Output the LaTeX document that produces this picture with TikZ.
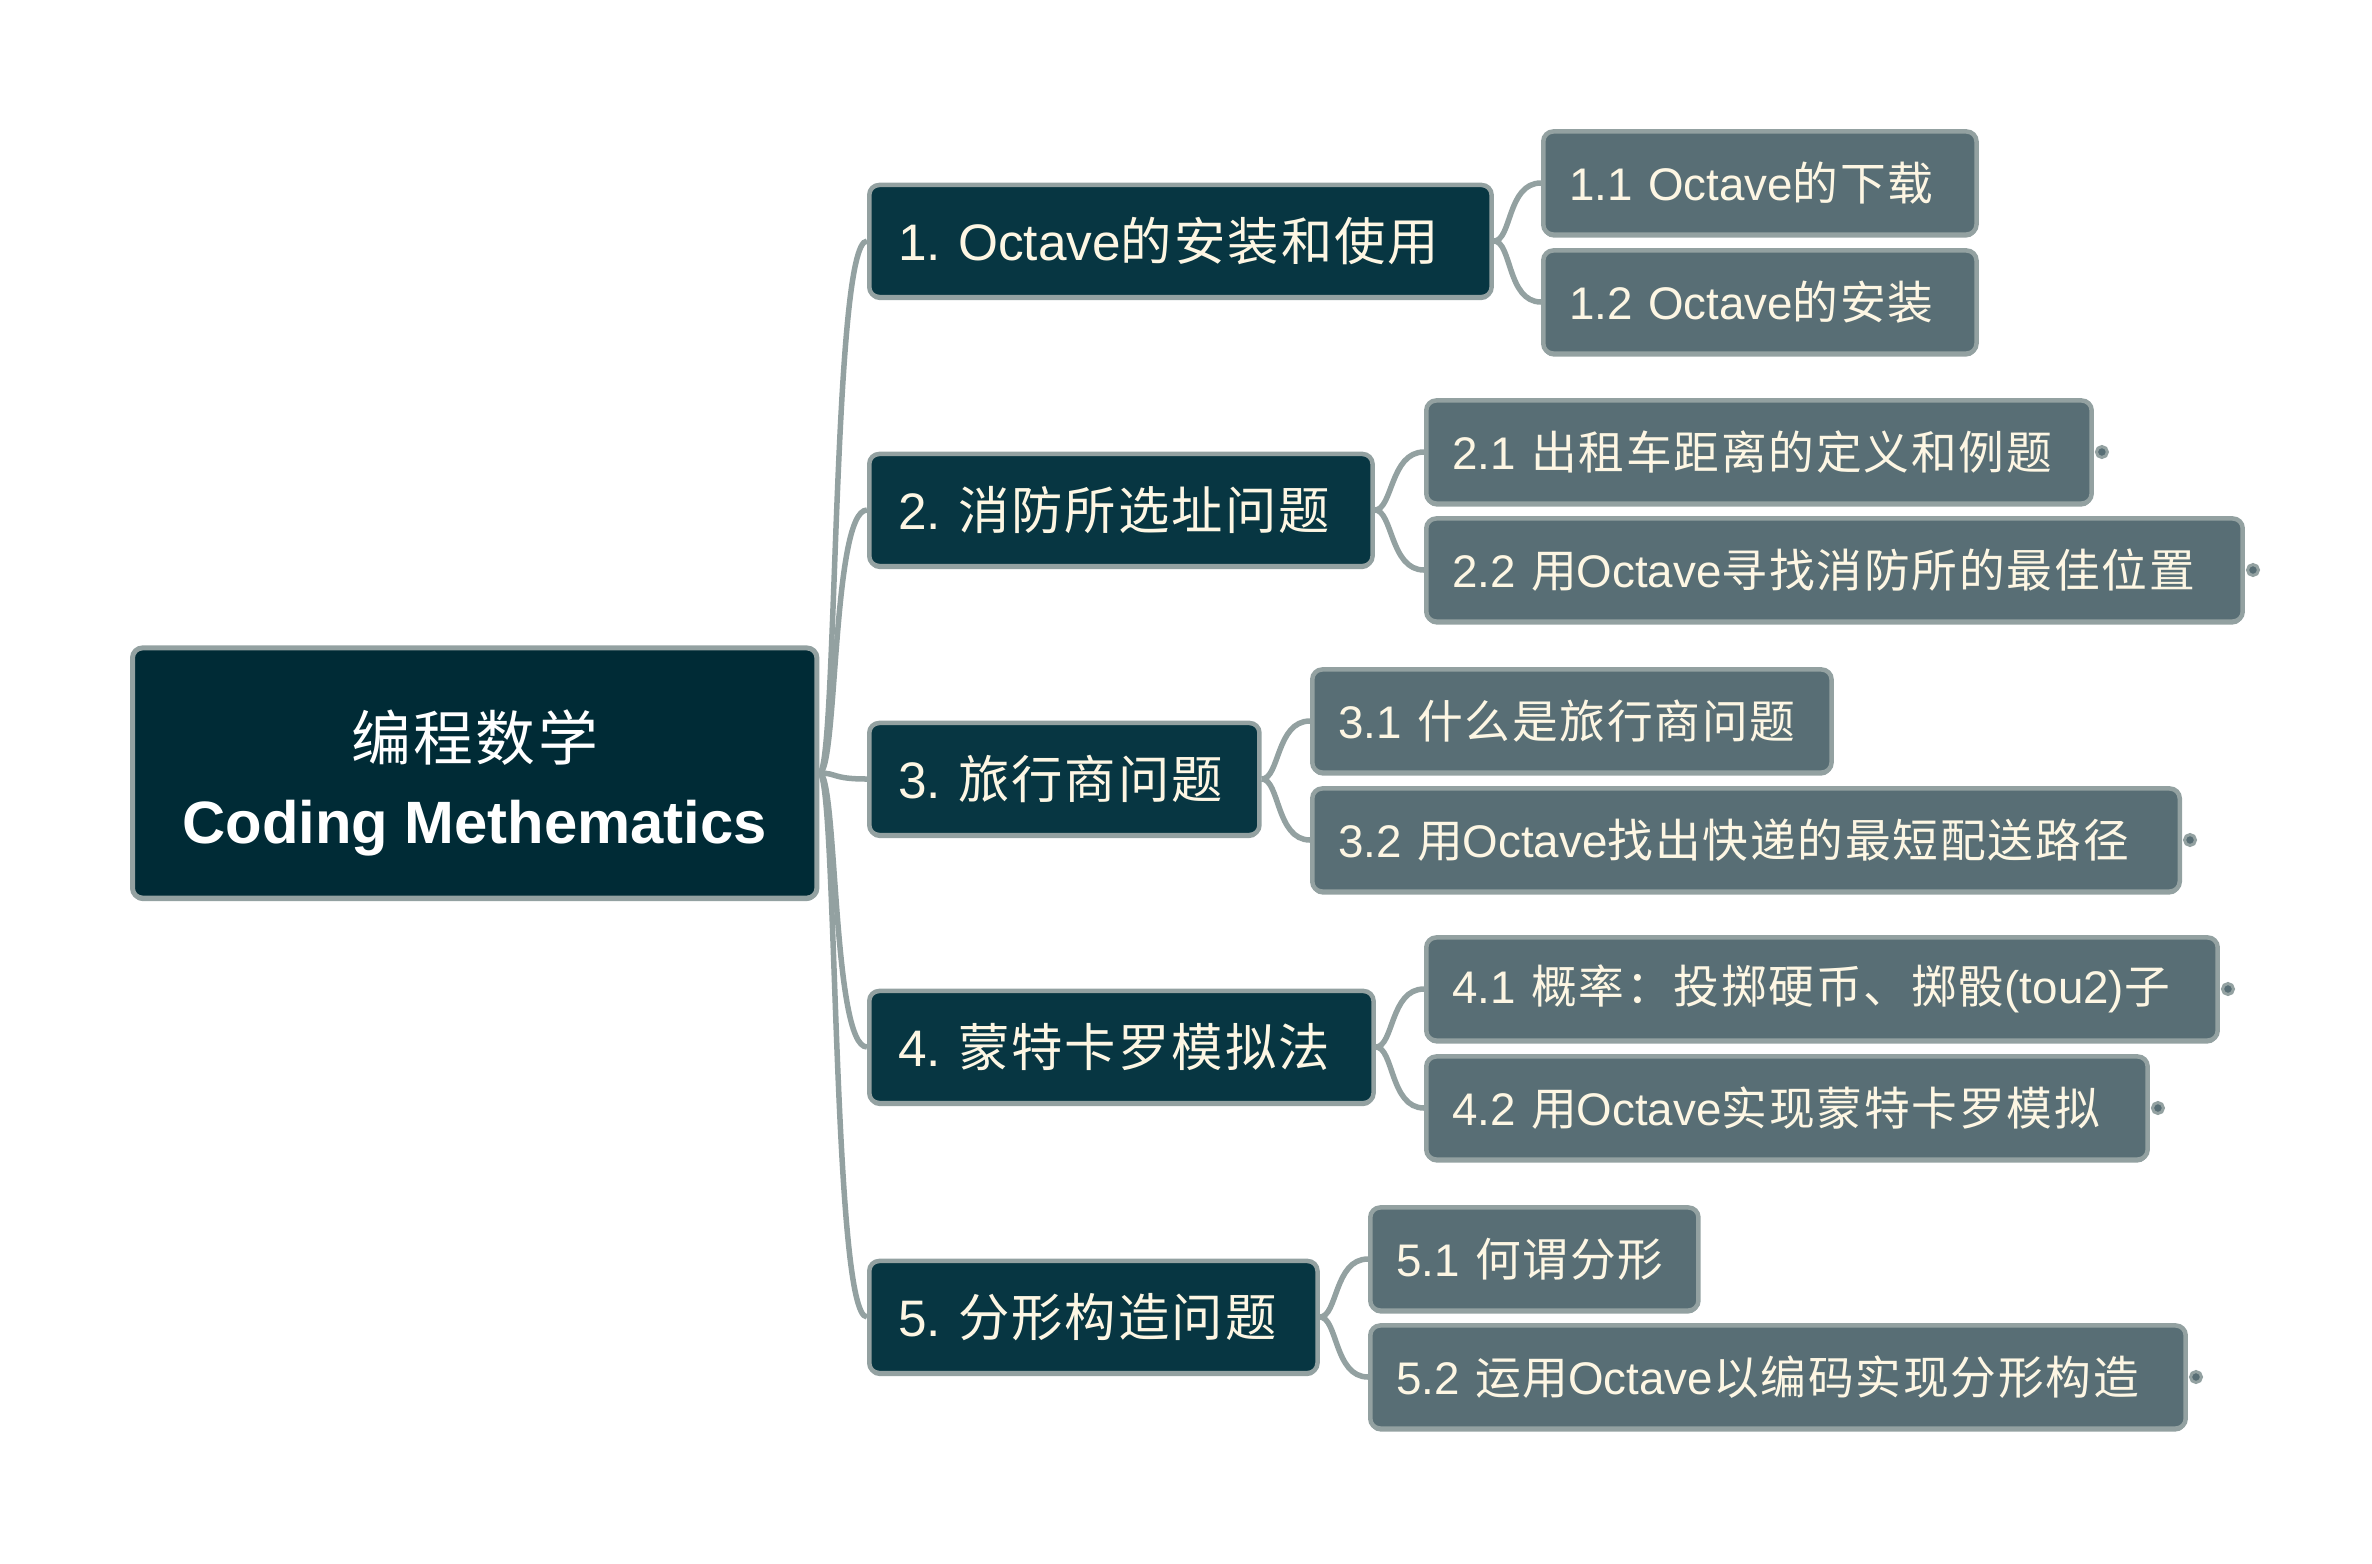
\documentclass[tikz,border=0pt]{standalone}
\usepackage{fontspec}
\setmainfont{Liberation Sans}
\newfontfamily\zhfont[LetterSpace=4]{Noto Sans CJK SC}
\newcommand{\zh}[1]{{\zhfont #1}}
\frenchspacing
\usetikzlibrary{shadows}
\definecolor{rootfill}{HTML}{002B36}
\definecolor{mainfill}{HTML}{073642}
\definecolor{subfill}{HTML}{586E75}
\definecolor{edge}{HTML}{93A1A1}
\definecolor{cream}{HTML}{FDF6E3}
\tikzset{
  box/.style={rectangle, rounded corners=0.1cm, draw=edge, line width=0.045cm,
    text=cream, anchor=west, inner sep=0pt, align=left,
    drop shadow={shadow xshift=0cm, shadow yshift=-0.03cm, fill=edge, opacity=1}},
  mainbox/.style={box, fill=mainfill, inner xsep=0.29cm, minimum height=1.12cm, font=\fontsize{14.6}{17}\selectfont},
  subbox/.style={box, fill=subfill, inner xsep=0.26cm, minimum height=1.03cm, font=\fontsize{13}{15}\selectfont},
  link/.style={draw=edge, line width=0.055cm},
  knob/.style={circle, fill=subfill, draw=edge, line width=0.03cm, inner sep=0pt, minimum size=0.11cm}
}
\begin{document}
\begin{tikzpicture}[x=0.01cm,y=-0.01cm]
	\useasboundingbox (0,0) rectangle (2372,1563);
	% root
	\node[box, fill=rootfill, text=white, line width=0.05cm, minimum width=6.84cm, minimum height=2.5cm,
		align=center, font=\fontsize{17}{23.5}\selectfont] (root) at (130,773) {\rule{0pt}{20pt}\zh{编程数学}\\\bfseries Coding Methematics};
	% chapters
	\node[mainbox, text width=5.64cm] (n1) at (867,241) {\mbox{1. Octave\zh{的安装和使用}}};
	\node[mainbox, text width=4.45cm] (n2) at (867,510) {\mbox{2. \zh{消防所选址问题}}};
	\node[mainbox, text width=3.32cm] (n3) at (867,779) {\mbox{3. \zh{旅行商问题}}};
	\node[mainbox, text width=4.46cm] (n4) at (867,1047) {\mbox{4. \zh{蒙特卡罗模拟法}}};
	\node[mainbox, text width=3.90cm] (n5) at (867,1317) {\mbox{5. \zh{分形构造问题}}};
	% sections
	\node[subbox, text width=3.81cm] (n11) at (1541,183) {\mbox{1.1 Octave\zh{的下载}}};
	\node[subbox, text width=3.81cm] (n12) at (1541,302) {\mbox{1.2 Octave\zh{的安装}}};
	\node[subbox, text width=6.13cm] (n21) at (1424,452) {\mbox{2.1 \zh{出租车距离的定义和例题}}};
	\node[subbox, text width=7.64cm] (n22) at (1424,570) {\mbox{2.2 \zh{用}Octave\zh{寻找消防所的最佳位置}}};
	\node[subbox, text width=4.67cm] (n31) at (1310,721) {\mbox{3.1 \zh{什么是旅行商问题}}};
	\node[subbox, text width=8.15cm] (n32) at (1310,840) {\mbox{3.2 \zh{用}Octave\zh{找出快递的最短配送路径}}};
	\node[subbox, text width=7.39cm] (n41) at (1424,989) {\mbox{4.1 \zh{概率：投掷硬币、掷骰}(tou2)\zh{子}}};
	\node[subbox, text width=6.69cm] (n42) at (1424,1108) {\mbox{4.2 \zh{用}Octave\zh{实现蒙特卡罗模拟}}};
	\node[subbox, text width=2.76cm] (n51) at (1368,1259) {\mbox{5.1 \zh{何谓分形}}};
	\node[subbox, text width=7.63cm] (n52) at (1368,1377) {\mbox{5.2 \zh{运用}Octave\zh{以编码实现分形构造}}};
	% collapsed markers
	\node[knob] (k21) at ([xshift=0.08cm]n21.east) {};
	\node[knob] (k22) at ([xshift=0.08cm]n22.east) {};
	\node[knob] (k32) at ([xshift=0.08cm]n32.east) {};
	\node[knob] (k41) at ([xshift=0.08cm]n41.east) {};
	\node[knob] (k42) at ([xshift=0.08cm]n42.east) {};
	\node[knob] (k52) at ([xshift=0.08cm]n52.east) {};
	% root to chapters
	\draw[link] (root.east) .. controls ([xshift=0.18cm]root.east) and ([xshift=-0.35cm]n1.west) .. (n1.west);
	\draw[link] (root.east) .. controls ([xshift=0.18cm]root.east) and ([xshift=-0.35cm]n2.west) .. (n2.west);
	\draw[link] (root.east) .. controls ([xshift=0.18cm]root.east) and ([xshift=-0.35cm]n3.west) .. (n3.west);
	\draw[link] (root.east) .. controls ([xshift=0.18cm]root.east) and ([xshift=-0.35cm]n4.west) .. (n4.west);
	\draw[link] (root.east) .. controls ([xshift=0.18cm]root.east) and ([xshift=-0.35cm]n5.west) .. (n5.west);
	% chapters to sections
	\draw[link] (n1.east) .. controls ([xshift=0.18cm]n1.east) and ([xshift=-0.34cm]n11.west) .. (n11.west);
	\draw[link] (n1.east) .. controls ([xshift=0.18cm]n1.east) and ([xshift=-0.34cm]n12.west) .. (n12.west);
	\draw[link] (n2.east) .. controls ([xshift=0.18cm]n2.east) and ([xshift=-0.34cm]n21.west) .. (n21.west);
	\draw[link] (n2.east) .. controls ([xshift=0.18cm]n2.east) and ([xshift=-0.34cm]n22.west) .. (n22.west);
	\draw[link] (n3.east) .. controls ([xshift=0.18cm]n3.east) and ([xshift=-0.34cm]n31.west) .. (n31.west);
	\draw[link] (n3.east) .. controls ([xshift=0.18cm]n3.east) and ([xshift=-0.34cm]n32.west) .. (n32.west);
	\draw[link] (n4.east) .. controls ([xshift=0.18cm]n4.east) and ([xshift=-0.34cm]n41.west) .. (n41.west);
	\draw[link] (n4.east) .. controls ([xshift=0.18cm]n4.east) and ([xshift=-0.34cm]n42.west) .. (n42.west);
	\draw[link] (n5.east) .. controls ([xshift=0.18cm]n5.east) and ([xshift=-0.34cm]n51.west) .. (n51.west);
	\draw[link] (n5.east) .. controls ([xshift=0.18cm]n5.east) and ([xshift=-0.34cm]n52.west) .. (n52.west);
\end{tikzpicture}
\end{document}
